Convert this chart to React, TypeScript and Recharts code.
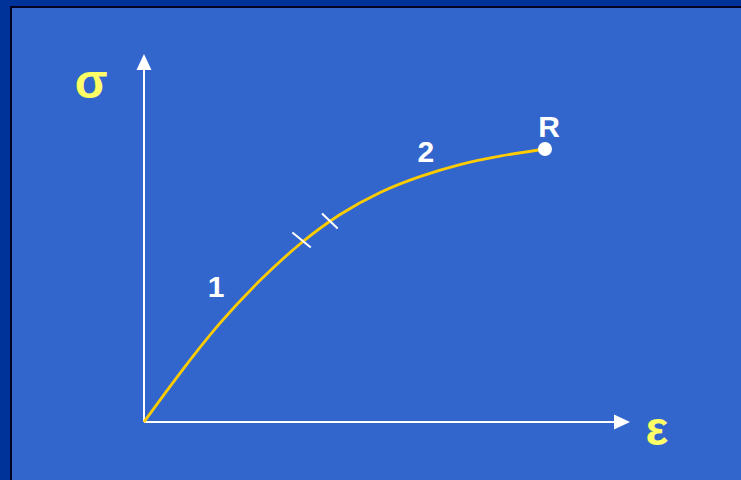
import React from "react";
import {
  LineChart,
  Line,
  XAxis,
  YAxis,
  ReferenceLine,
  ReferenceDot,
} from "recharts";

// strain / stress (0..100 at point R)
const strain = [0, 9.0, 18.9, 28.9, 38.9, 48.9, 58.9, 68.8, 78.8, 88.8, 100];
const stress = [0, 17.9, 36.1, 51.8, 65.2, 76.0, 84.1, 89.9, 94.3, 97.4, 100];

// little cross ticks marking the end of zone 1 / start of zone 2
const ticks = [
  [{ x: 37.0, y: 69.4 }, { x: 41.6, y: 63.9 }],
  [{ x: 44.4, y: 76.4 }, { x: 48.3, y: 70.9 }],
];

const axisEnds = { x: 121.2, y: 134.8 };
const rupture = { x: 100, y: 100 };

const labels = [
  { text: "σ", x: -13.2, y: 118.7, color: "#FFFF66", size: 48 },
  { text: "ε", x: 127.9, y: -8.4, color: "#FFFF66", size: 48 },
  { text: "1", x: 18.0, y: 45.8, color: "#FFFFFF", size: 30 },
  { text: "2", x: 70.3, y: 95.2, color: "#FFFFFF", size: 30 },
  { text: "R", x: 101.0, y: 104.4, color: "#FFFFFF", size: 30 },
];

const data = strain.map((s, i) => ({ strain: s, stress: stress[i] }));

const FONT = "'Liberation Sans', Arial, sans-serif";

const arrowLine = (props: any) => {
  const { x1, y1, x2, y2 } = props;
  const dx = x2 - x1;
  const dy = y2 - y1;
  const len = Math.sqrt(dx * dx + dy * dy) || 1;
  const ux = dx / len;
  const uy = dy / len;
  const head = 16;
  const half = 7.5;
  const bx = x2 - ux * head;
  const by = y2 - uy * head;
  return (
    <g>
      <line x1={x1} y1={y1} x2={bx} y2={by} stroke="#FFFFFF" strokeWidth={2} />
      <polygon
        points={`${x2},${y2} ${bx - uy * half},${by + ux * half} ${bx + uy * half},${by - ux * half}`}
        fill="#FFFFFF"
      />
    </g>
  );
};

const textShape = (l: any) => (props: any) => (
  <text
    x={props.cx}
    y={props.cy}
    textAnchor="middle"
    fill={l.color}
    fontSize={l.size}
    fontWeight="bold"
    fontFamily={FONT}
  >
    {l.text}
  </text>
);

export default function App() {
  return (
    <div
      style={{
        position: "absolute",
        left: 0,
        top: 0,
        width: 741,
        height: 480,
        background: "#003399",
        overflow: "hidden",
      }}
    >
      <div
        style={{
          position: "absolute",
          left: 10,
          top: 6,
          right: 0,
          bottom: 0,
          background: "#3366CC",
          borderLeft: "2px solid #000022",
          borderTop: "2px solid #000022",
        }}
      />
      <div style={{ position: "absolute", left: 0, top: 0 }}>
        <LineChart
          width={741}
          height={480}
          data={data}
          margin={{ top: 0, right: 0, bottom: 0, left: 0 }}
        >
          <XAxis
            dataKey="strain"
            type="number"
            domain={[-35.91, 148.88]}
            allowDataOverflow
            hide
          />
          <YAxis
            type="number"
            domain={[-21.25, 154.58]}
            allowDataOverflow
            hide
          />
          <ReferenceLine
            segment={[{ x: 0, y: 0 }, { x: 0, y: axisEnds.y }]}
            shape={arrowLine}
          />
          <ReferenceLine
            segment={[{ x: 0, y: 0 }, { x: axisEnds.x, y: 0 }]}
            shape={arrowLine}
          />
          <Line
            type="natural"
            dataKey="stress"
            stroke="#FFCC00"
            strokeWidth={2.8}
            dot={false}
            activeDot={false}
            isAnimationActive={false}
          />
          {ticks.map((t, i) => (
            <ReferenceLine
              key={i}
              segment={t}
              stroke="#FFFFFF"
              strokeWidth={2}
            />
          ))}
          <ReferenceDot
            x={rupture.x}
            y={rupture.y}
            r={7}
            fill="#FFFFFF"
            stroke="none"
          />
          {labels.map((l) => (
            <ReferenceDot
              key={l.text}
              x={l.x}
              y={l.y}
              r={1}
              shape={textShape(l)}
            />
          ))}
        </LineChart>
      </div>
    </div>
  );
}
